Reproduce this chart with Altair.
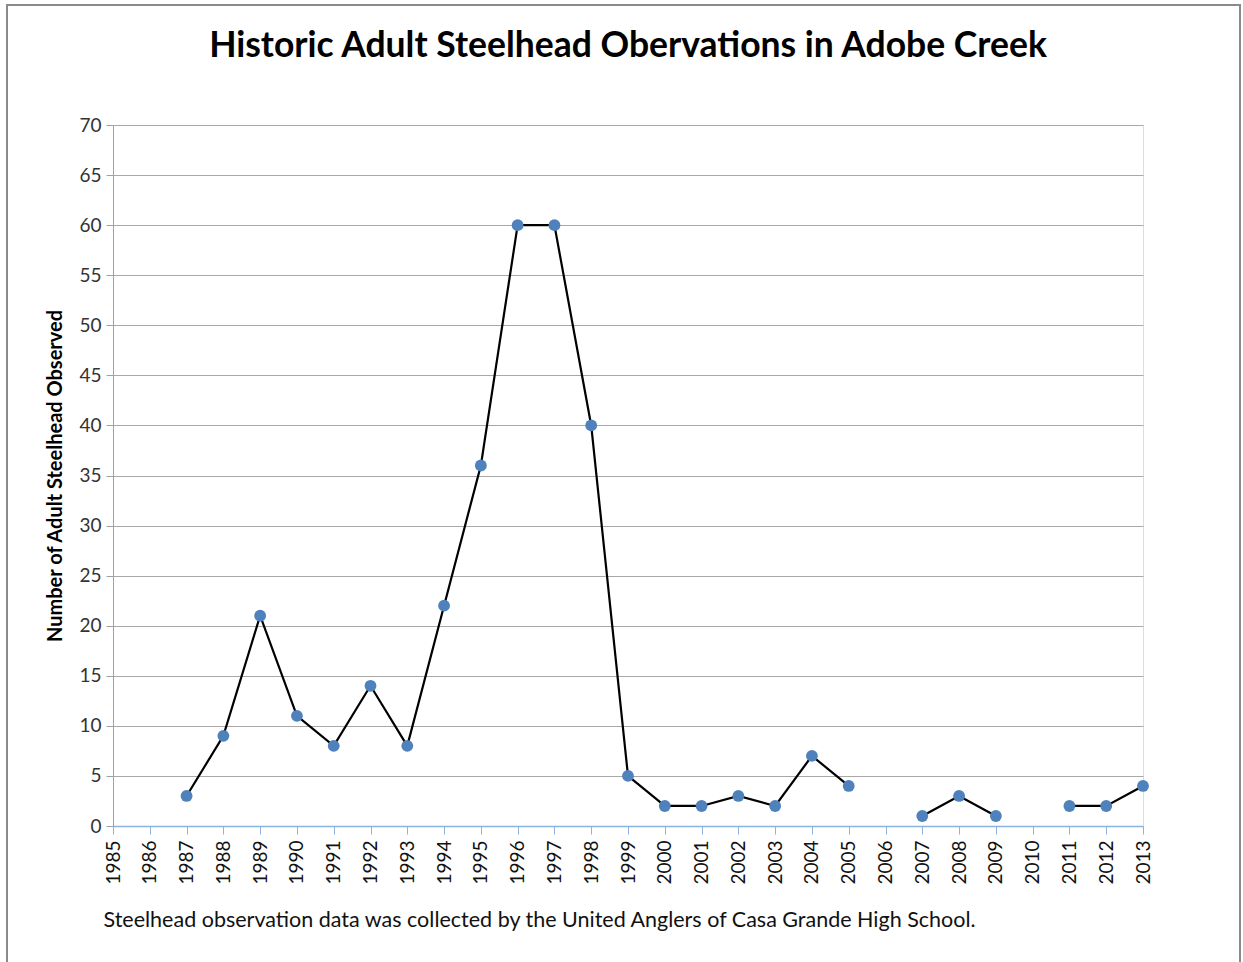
import altair as alt
import pandas as pd

years = list(range(1985, 2014))
counts = [None, None, 3, 9, 21, 11, 8, 14, 8, 22, 36, 60, 60, 40, 5, 2, 2, 3, 2, 7, 4,
          None, 1, 3, 1, None, 2, 2, 4]
segments = [0, 0, 1, 1, 1, 1, 1, 1, 1, 1, 1, 1, 1, 1, 1, 1, 1, 1, 1, 1, 1,
            2, 2, 2, 2, 3, 3, 3, 3]

df = pd.DataFrame({"year": years, "count": counts, "segment": segments})
df = df.dropna()

title_text = "Historic Adult Steelhead Obervations in Adobe Creek"
y_title = "Number of Adult Steelhead Observed"
caption = "Steelhead observation data was collected by the United Anglers of Casa Grande High School."

FONT = "Lato"

x_enc = alt.X("year:Q",
              scale=alt.Scale(domain=[1985, 2013], nice=False, zero=False),
              axis=alt.Axis(values=years, format="d", labelAngle=270, labelAlign="right",
                            labelBaseline="middle", labelFontSize=19, labelColor="#111111",
                            labelPadding=6, labelOverlap=False, labelBound=False, labelFlush=False,
                            labelSeparation=0,
                            tickSize=8, tickColor="#8db3e2", domainColor="#8db3e2",
                            domainWidth=1.5, grid=False, labelFont=FONT,
                            title=caption, titleFont=FONT, titleFontSize=21.5, titleFontWeight="normal",
                            titleAlign="left", titleAnchor="start", titleX=-10, titleY=100,
                            titleBaseline="alphabetic", titleColor="#111111"))
y_enc = alt.Y("count:Q",
              scale=alt.Scale(domain=[0, 70], nice=False),
              axis=alt.Axis(values=list(range(0, 75, 5)), labelFontSize=19, labelColor="#333333",
                            labelFont=FONT, labelPadding=5, tickSize=7, tickColor="#a0a0a0",
                            labelOverlap=False, labelFlush=False,
                            domainColor="#a0a0a0", gridColor="#a8a8a8", gridWidth=1,
                            title=y_title, titleFont=FONT, titleFontSize=20, titleFontWeight="bold",
                            titleColor="#000000", titlePadding=13))

base = alt.Chart(df).encode(x=x_enc, y=y_enc)
line = base.mark_line(color="#000000", strokeWidth=2.2).encode(detail="segment:N")
points = base.mark_circle(color="#4f81bd", opacity=1, size=140)

frame = alt.Chart(pd.DataFrame({"a": [0]})).mark_rect(
    fill=None, stroke="#8a8a8a", strokeWidth=2, clip=False).encode(
    x=alt.value(-106), x2=alt.value(1127), y=alt.value(-120), y2=alt.value(860))

chart = alt.layer(line, points, frame).properties(
    width=1030, height=701,
    title=alt.TitleParams(title_text, font=FONT, fontSize=35.5, fontWeight="bold",
                          color="#000000", anchor="middle", offset=0, dy=60),
    autosize=alt.AutoSizeParams(type="none"),
    padding={"left": 113, "top": 125, "right": 100, "bottom": 136},
).configure_view(stroke=None).configure(background="white")

chart.save("out.html", embed_options={"renderer": "svg", "actions": False})
